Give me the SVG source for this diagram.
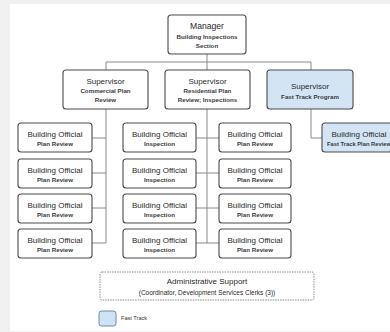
<svg xmlns="http://www.w3.org/2000/svg" width="390" height="332" viewBox="0 0 390 332">
<style>
.box{fill:#fff;stroke:#4a4a4a;stroke-width:1.1}
.ft{fill:#d3e5f5;stroke:#4a4a4a;stroke-width:1.1}
.t{font-family:"Liberation Sans",Arial,sans-serif;font-size:8px;fill:#2a2a2a;text-anchor:middle}
.s{font-family:"Liberation Sans",Arial,sans-serif;font-size:6.2px;font-weight:bold;fill:#3a3a3a;text-anchor:middle}
.c{fill:none;stroke:#8a8a8a;stroke-width:1}
</style>
<rect x="0" y="0" width="390" height="332" fill="#f0f0f0"/>
<rect x="10" y="4" width="380" height="327" fill="#fff"/>
<g id="connectors">
<path class="c" d="M207 54V62M106 70V62H311V70M207 62V70"/>
<path class="c" d="M106 109V243M92 138H106M92 173H106M92 208H106M92 243H106"/>
<path class="c" d="M207 109V243M196 138H219M196 173H219M196 208H219M196 243H219"/>
<path class="c" d="M311 109V138H322"/>
</g>
<g id="manager">
<rect class="box" x="168" y="15" width="78" height="39" rx="3"/>
<text class="t" x="207" y="29" style="font-size:8.6px">Manager</text>
<text class="s" x="207" y="38.5">Building Inspections</text>
<text class="s" x="207" y="47.5">Section</text>
</g>
<g id="sup-commercial">
<rect class="box" x="63" y="70" width="85" height="39" rx="3"/>
<text class="t" x="105.5" y="84">Supervisor</text>
<text class="s" x="105.5" y="93">Commercial Plan</text>
<text class="s" x="105.5" y="102">Review</text>
</g>
<g id="sup-residential">
<rect class="box" x="165" y="70" width="85" height="39" rx="3"/>
<text class="t" x="207.5" y="84">Supervisor</text>
<text class="s" x="207.5" y="93">Residential Plan</text>
<text class="s" x="207.5" y="102">Review; Inspections</text>
</g>
<g id="sup-fasttrack">
<rect class="ft" x="267" y="70" width="86" height="39" rx="3"/>
<text class="t" x="310" y="88.5">Supervisor</text>
<text class="s" x="310" y="99">Fast Track Program</text>
</g>
<g id="pr1"><rect class="box" x="18" y="123" width="74" height="29" rx="3"/><text class="t" x="55" y="136.5">Building Official</text><text class="s" x="55" y="145.5">Plan Review</text></g>
<g id="pr2"><rect class="box" x="18" y="159" width="74" height="29" rx="3"/><text class="t" x="55" y="172.5">Building Official</text><text class="s" x="55" y="181.5">Plan Review</text></g>
<g id="pr3"><rect class="box" x="18" y="194" width="74" height="29" rx="3"/><text class="t" x="55" y="207.5">Building Official</text><text class="s" x="55" y="216.5">Plan Review</text></g>
<g id="pr4"><rect class="box" x="18" y="229" width="74" height="29" rx="3"/><text class="t" x="55" y="242.5">Building Official</text><text class="s" x="55" y="251.5">Plan Review</text></g>
<g id="in1"><rect class="box" x="123" y="123" width="73" height="29" rx="3"/><text class="t" x="159.5" y="136.5">Building Official</text><text class="s" x="159.5" y="145.5">Inspection</text></g>
<g id="in2"><rect class="box" x="123" y="159" width="73" height="29" rx="3"/><text class="t" x="159.5" y="172.5">Building Official</text><text class="s" x="159.5" y="181.5">Inspection</text></g>
<g id="in3"><rect class="box" x="123" y="194" width="73" height="29" rx="3"/><text class="t" x="159.5" y="207.5">Building Official</text><text class="s" x="159.5" y="216.5">Inspection</text></g>
<g id="in4"><rect class="box" x="123" y="229" width="73" height="29" rx="3"/><text class="t" x="159.5" y="242.5">Building Official</text><text class="s" x="159.5" y="251.5">Inspection</text></g>
<g id="rp1"><rect class="box" x="219" y="123" width="72" height="29" rx="3"/><text class="t" x="255" y="136.5">Building Official</text><text class="s" x="255" y="145.5">Plan Review</text></g>
<g id="rp2"><rect class="box" x="219" y="159" width="72" height="29" rx="3"/><text class="t" x="255" y="172.5">Building Official</text><text class="s" x="255" y="181.5">Plan Review</text></g>
<g id="rp3"><rect class="box" x="219" y="194" width="72" height="29" rx="3"/><text class="t" x="255" y="207.5">Building Official</text><text class="s" x="255" y="216.5">Plan Review</text></g>
<g id="rp4"><rect class="box" x="219" y="229" width="72" height="29" rx="3"/><text class="t" x="255" y="242.5">Building Official</text><text class="s" x="255" y="251.5">Plan Review</text></g>
<g id="ft1"><rect class="ft" x="322" y="123" width="74" height="29" rx="3"/><text class="t" x="359" y="136.5">Building Official</text><text class="s" x="359" y="145.5" style="font-size:5.8px">Fast Track Plan Review</text></g>
<g id="admin">
<rect x="100" y="272" width="214" height="28" rx="2" fill="#fff" stroke="#8a8a8a" stroke-width="1" stroke-dasharray="1.5 1"/>
<text class="t" x="207" y="284">Administrative Support</text>
<text class="t" x="207" y="294.5" style="font-size:6.5px">(Coordinator, Development Services Clerks (3))</text>
</g>
<g id="legend">
<rect x="99" y="311" width="17" height="15" rx="2.5" fill="#cfe2f3" stroke="#6a8aaa" stroke-width="1"/>
<text x="121" y="319.5" font-family="Liberation Sans, Arial, sans-serif" font-size="5.6" fill="#333">Fast Track</text>
</g>
</svg>
